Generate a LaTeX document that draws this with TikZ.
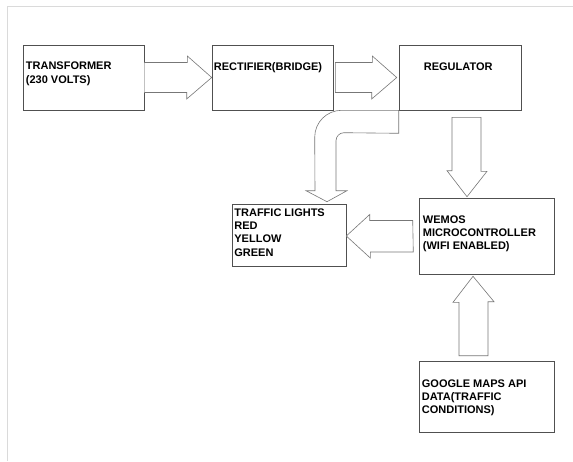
\documentclass[tikz,border=0pt]{standalone}
\usepackage{fontspec}
\setmainfont{Liberation Sans}
\usetikzlibrary{calc,backgrounds}
\usepackage{xcolor}
\definecolor{boxline}{HTML}{505050}
\definecolor{arrowline}{HTML}{777777}
\definecolor{pagerule}{HTML}{DADADA}

\begin{document}
\begin{tikzpicture}[x=1pt,y=-1pt,
	background rectangle/.style={fill=white},show background rectangle,inner frame sep=0pt,
	blockbox/.style={draw=boxline,line width=0.6pt,inner sep=0pt},
	hollow/.style={draw=arrowline,fill=white,line width=0.6pt,line join=miter},
	lbl/.style={font=\fontsize{11}{13.4}\selectfont\bfseries,align=left,inner sep=0pt,anchor=north west}]
		\useasboundingbox (0,0) rectangle (573,461);
		\draw [pagerule] (7,461) -- (7,6) -- (573,6);
		% blocks
		\node [blockbox,minimum width=121pt,minimum height=65pt] (tr) at (83.5,77.5) {};
		\node [blockbox,minimum width=121pt,minimum height=65pt] (rec) at (272.5,77.5) {};
		\node [blockbox,minimum width=122pt,minimum height=65pt] (reg) at (460,77.5) {};
		\node [blockbox,minimum width=114pt,minimum height=62pt] (lights) at (289,235) {};
		\node [blockbox,minimum width=135pt,minimum height=76pt] (wemos) at (486.5,236) {};
		\node [blockbox,minimum width=135pt,minimum height=71pt] (maps) at (486.5,396.5) {};
		% texts
		\node [lbl] (trtxt) at ($(tr.north west)+(3,17.3)$) {TRANSFORMER\\(230 VOLTS)};
		\node [lbl] (rectxt) at ($(rec.north west)+(2,17.3)$) {RECTIFIER(BRIDGE)};
		\node [lbl] (regtxt) at ($(reg.north west)+(25,17.5)$) {REGULATOR};
		\node [lbl] (lightstxt) at ($(lights.north west)+(2.5,4.5)$) {TRAFFIC LIGHTS\\RED\\YELLOW\\GREEN};
		\node [lbl] (wemostxt) at ($(wemos.north west)+(4,17.5)$) {WEMOS\\MICROCONTROLLER\\(WIFI ENABLED)};
		\node [lbl] (mapstxt) at ($(maps.north west)+(3,18.5)$) {GOOGLE MAPS API\\DATA(TRAFFIC\\CONDITIONS)};
		% block arrows
		\draw [hollow] ($(tr.east)+(0,-15)$) -- ++(43,0) -- ++(0,-6.5) -- (rec.west) -- ++(-25,21.5) -- ++(0,-6.5) -- ($(tr.east)+(0,15)$);
		\draw [hollow] ($(rec.east)+(2,-15)$) -- ++(37,0) -- ++(0,-6.5) -- ($(reg.west)+(-2,0)$) -- ++(-25,21.5) -- ++(0,-6.5) -- ($(rec.east)+(2,15)$) -- cycle;
		\draw [hollow] (reg.south west) -- ++(-57,0) .. controls +(-15,0) and +(0,-15) .. ++(-27,27) -- ($(lights.north)+(26,-13)$) -- ++(-9,0) -- ($(lights.north)+(38,-2)$) -- ++(20,-11) -- ++(-11,0) -- ++(0,-50) .. controls +(0,-4.4) and +(-4.4,0) .. ++(8,-8) -- ($(reg.south west)+(0,23)$) -- cycle;
		\draw [hollow] ($(reg.south)+(-8,7)$) -- ++(29,0) -- ++(0,54) -- ++(6,0) -- ($(wemos.north)+(-19.5,-1)$) -- ++(-20,-26) -- ++(5,0) -- cycle;
		\draw [hollow] ($(wemos.west)+(-6,-15.5)$) -- ++(-43,0) -- ++(0,-6) -- ($(lights.east)+(0,1)$) -- ++(24,22) -- ++(0,-6) -- ++(43,0) -- cycle;
		\draw [hollow] ($(maps.north)+(-27.5,-5)$) -- ++(29,0) -- ++(0,-54) -- ++(6,0) -- ($(wemos.south)+(-13.5,2)$) -- ++(-20,26) -- ++(6,0) -- cycle;
	\end{tikzpicture}
\end{document}
